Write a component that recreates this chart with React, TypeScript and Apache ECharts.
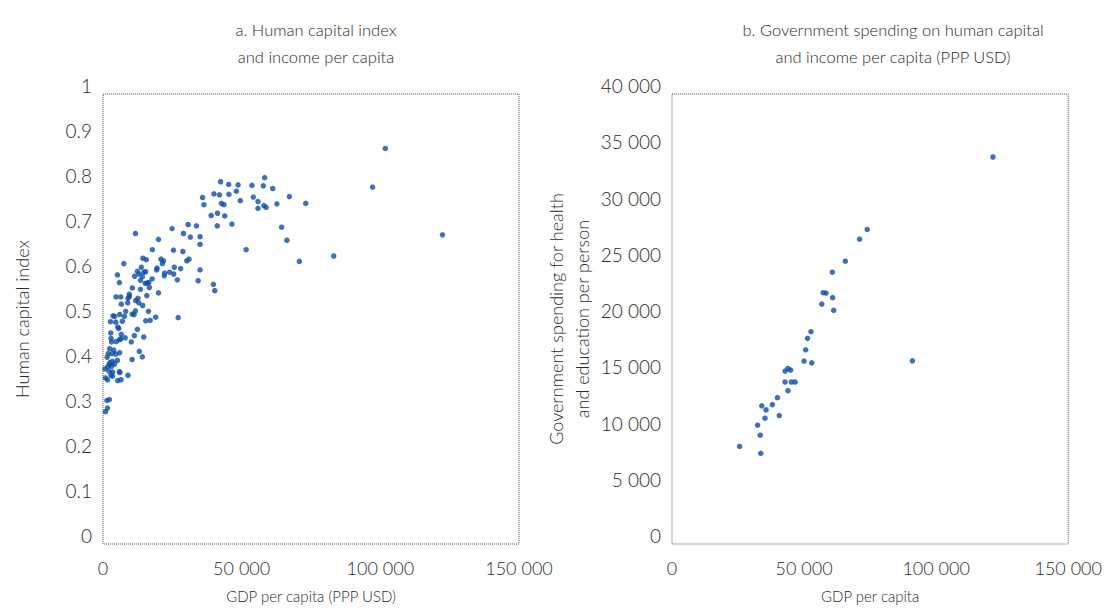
import React, { useEffect, useRef } from "react";
import * as echarts from "echarts";

// Panel a: GDP per capita (PPP USD) vs human capital index
const gdpA = [
  42400, 35900, 40000, 42000, 36400, 42700, 43600, 39000, 41300, 43900,
  41200, 11700, 24900, 30700, 33700, 29000, 31500, 35000, 20000, 35000,
  17800, 25400, 28800, 7500, 14400, 15600, 20900, 21800, 21400, 30200,
  31000, 13800, 12400, 19500, 19300, 25700, 28000, 5200, 5900, 11400,
  13000, 14700, 15400, 14200, 22200, 22100, 24000, 25500, 35000, 17700,
  26800, 34300, 13500, 15200, 15900, 16500, 10600, 13500, 16700, 39800,
  40300, 9500, 4700, 6400, 9000, 12600, 15800, 20000, 9500, 11800,
  6600, 8900, 12900, 14300, 8200, 11700, 10500, 11200, 16400, 3600,
  4200, 6000, 7700, 19000, 27100, 2700, 4600, 7000, 15400, 17000,
  5300, 5700, 12400, 2800, 6600, 11300, 14700, 2900, 3100, 4800,
  6000, 6400, 8000, 10200, 2400, 3900, 13100, 1900, 3300, 4600,
  6000, 14200, 1500, 5200, 10500, 2500, 3400, 4200, 2300, 3100,
  700, 1700, 2200, 3500, 5900, 6100, 2900, 3400, 9000, 900,
  1600, 5300, 6500, 1400, 2300, 1600, 900, 58300, 45300, 48700,
  53700, 57800, 61200, 45400, 48100, 49500, 54200, 55900, 58000, 58800,
  55900, 62700, 67200, 73100, 46500, 64400, 66300, 51600, 70800, 83200,
  101800, 97200, 122400,
];
const hciA = [
  0.805, 0.770, 0.778, 0.776, 0.754, 0.757, 0.754, 0.730, 0.735, 0.729,
  0.707, 0.690, 0.701, 0.710, 0.707, 0.690, 0.682, 0.683, 0.677, 0.666,
  0.654, 0.653, 0.650, 0.623, 0.635, 0.632, 0.633, 0.629, 0.623, 0.629,
  0.633, 0.615, 0.606, 0.613, 0.609, 0.615, 0.612, 0.598, 0.581, 0.595,
  0.600, 0.604, 0.605, 0.594, 0.602, 0.596, 0.604, 0.600, 0.609, 0.589,
  0.587, 0.585, 0.586, 0.579, 0.580, 0.581, 0.569, 0.566, 0.570, 0.577,
  0.563, 0.555, 0.549, 0.549, 0.546, 0.546, 0.552, 0.558, 0.550, 0.541,
  0.533, 0.536, 0.536, 0.530, 0.517, 0.518, 0.511, 0.510, 0.517, 0.507,
  0.506, 0.510, 0.506, 0.504, 0.503, 0.494, 0.493, 0.495, 0.496, 0.497,
  0.482, 0.479, 0.477, 0.469, 0.466, 0.463, 0.460, 0.457, 0.449, 0.450,
  0.454, 0.456, 0.458, 0.449, 0.434, 0.431, 0.428, 0.423, 0.423, 0.422,
  0.425, 0.416, 0.415, 0.408, 0.410, 0.403, 0.406, 0.400, 0.399, 0.395,
  0.389, 0.394, 0.384, 0.382, 0.383, 0.381, 0.375, 0.373, 0.375, 0.369,
  0.365, 0.363, 0.365, 0.319, 0.321, 0.302, 0.294, 0.814, 0.799, 0.798,
  0.797, 0.796, 0.790, 0.777, 0.784, 0.763, 0.771, 0.761, 0.752, 0.748,
  0.746, 0.756, 0.772, 0.757, 0.711, 0.704, 0.675, 0.654, 0.628, 0.640,
  0.879, 0.793, 0.687,
];

// Panel b: GDP per capita vs government spending on health and education per person
const gdpB = [
  121500, 73900, 71000, 65600, 60700, 57200, 58300, 60800, 56700, 61200,
  52600, 51300, 50600, 50000, 52900, 91000, 42800, 43900, 44900, 42800,
  45200, 46600, 43900, 39900, 34000, 38000, 35600, 35200, 40600, 32400,
  33400, 25600, 33600,
];
const spendB = [
  34400, 27960, 27090, 25140, 24160, 22340, 22310, 21900, 21330, 20770,
  18870, 18280, 17260, 16260, 16100, 16280, 15370, 15600, 15460, 14400,
  14400, 14400, 13630, 13010, 12280, 12390, 11920, 11180, 11420, 10560,
  9670, 8670, 8060,
];

const titleA = "a. Human capital index\nand income per capita";
const titleB = "b. Government spending on human capital\nand income per capita (PPP USD)";
const xNameA = "GDP per capita (PPP USD)";
const xNameB = "GDP per capita";
const yNameA = "Human capital index";
const yNameB = "Government spending for health\nand education per person";

const FONT = '"Liberation Sans Narrow", "Arial Narrow", Lato, sans-serif';
const WEIGHT = 300;
const TEXT = "#2a2a2a";
const DOT = "#0e4ea6";

const spaced = (v: number) =>
  String(Math.round(v)).replace(/\B(?=(\d{3})+(?!\d))/g, " ");

const zip = (xs: number[], ys: number[]) => xs.map((x, i) => [x, ys[i]]);

export default function App() {
  const ref = useRef<HTMLDivElement>(null);

  useEffect(() => {
    if (!ref.current) return;
    const chart = echarts.init(ref.current, undefined, { renderer: "svg" });

    const textBase = { color: TEXT, fontFamily: FONT, fontWeight: WEIGHT };

    const gridBase = {
      show: true,
      borderColor: "#555",
      borderWidth: 1,
      borderType: "dotted" as const,
      backgroundColor: "transparent",
      containLabel: false,
    };

    const xAxisBase = {
      type: "value" as const,
      min: 0,
      max: 150000,
      interval: 50000,
      axisLine: { show: false },
      axisTick: { show: false },
      splitLine: { show: false },
      axisLabel: { ...textBase, formatter: spaced, fontSize: 18, margin: 15 },
      nameLocation: "middle" as const,
      nameGap: 44,
      nameTextStyle: { ...textBase, fontSize: 15 },
    };

    const yLabelBase = {
      ...textBase,
      fontSize: 19,
      margin: 11,
      verticalAlign: "bottom" as const,
      lineHeight: 17,
    };

    const titleStyle = { ...textBase, fontSize: 16.5, lineHeight: 27 };

    chart.setOption({
      animation: false,
      backgroundColor: "#fff",
      title: [
        { text: titleA, left: 311, top: 11, textAlign: "center", textStyle: titleStyle },
        { text: titleB, left: 888, top: 11, textAlign: "center", textStyle: titleStyle },
      ],
      grid: [
        { ...gridBase, left: 103, top: 94, width: 416, height: 452 },
        { ...gridBase, left: 672, top: 94, width: 416, height: 452 },
      ],
      xAxis: [
        { ...xAxisBase, gridIndex: 0, name: xNameA },
        { ...xAxisBase, gridIndex: 1, name: xNameB },
      ],
      yAxis: [
        {
          type: "value",
          gridIndex: 0,
          min: 0,
          max: 1,
          interval: 0.1,
          axisLine: { show: false },
          axisTick: { show: false },
          splitLine: { show: false },
          axisLabel: {
            ...yLabelBase,
            formatter: (v: number) => String(Math.round(v * 10) / 10),
          },
          name: yNameA,
          nameLocation: "middle",
          nameRotate: 90,
          nameGap: 72,
          nameTextStyle: { ...textBase, fontSize: 18 },
        },
        {
          type: "value",
          gridIndex: 1,
          min: 0,
          max: 40000,
          interval: 5000,
          axisLine: { show: false },
          axisTick: { show: false },
          splitLine: { show: false },
          axisLabel: { ...yLabelBase, formatter: spaced },
          name: yNameB,
          nameLocation: "middle",
          nameRotate: 90,
          nameGap: 77,
          nameTextStyle: { ...textBase, fontSize: 18, lineHeight: 26 },
        },
      ],
      series: [
        {
          type: "scatter",
          xAxisIndex: 0,
          yAxisIndex: 0,
          symbolSize: 5.5,
          itemStyle: { color: DOT },
          data: zip(gdpA, hciA),
        },
        {
          type: "scatter",
          xAxisIndex: 1,
          yAxisIndex: 1,
          symbolSize: 5.5,
          itemStyle: { color: DOT },
          data: zip(gdpB, spendB),
        },
      ],
    });

    return () => chart.dispose();
  }, []);

  return (
    <div
      ref={ref}
      style={{ position: "absolute", left: 0, top: 0, width: 1105, height: 608 }}
    />
  );
}
